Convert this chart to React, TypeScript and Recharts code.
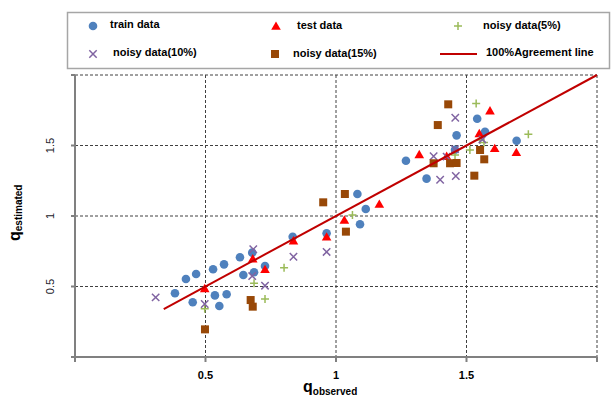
import React from 'react';
import { ScatterChart, Scatter, XAxis, YAxis, CartesianGrid } from 'recharts';

// values (q observed vs q estimated)
const trainData = [
  { x: 0.383, y: 0.452 }, { x: 0.425, y: 0.553 }, { x: 0.464, y: 0.589 }, { x: 0.451, y: 0.388 },
  { x: 0.529, y: 0.622 }, { x: 0.571, y: 0.657 }, { x: 0.536, y: 0.437 }, { x: 0.581, y: 0.445 },
  { x: 0.553, y: 0.362 }, { x: 0.632, y: 0.707 }, { x: 0.645, y: 0.582 }, { x: 0.679, y: 0.74 },
  { x: 0.686, y: 0.601 }, { x: 0.728, y: 0.645 }, { x: 0.834, y: 0.853 }, { x: 0.964, y: 0.877 },
  { x: 1.082, y: 1.156 }, { x: 1.114, y: 1.05 }, { x: 1.092, y: 0.941 }, { x: 1.268, y: 1.392 },
  { x: 1.347, y: 1.265 }, { x: 1.456, y: 1.47 }, { x: 1.462, y: 1.572 }, { x: 1.541, y: 1.69 },
  { x: 1.571, y: 1.598 }, { x: 1.692, y: 1.534 },
];

const testData = [
  { x: 0.497, y: 0.487 }, { x: 0.681, y: 0.697 }, { x: 0.728, y: 0.622 }, { x: 0.837, y: 0.825 },
  { x: 0.964, y: 0.853 }, { x: 1.032, y: 0.972 }, { x: 1.166, y: 1.085 }, { x: 1.319, y: 1.437 },
  { x: 1.424, y: 1.425 }, { x: 1.549, y: 1.586 }, { x: 1.59, y: 1.747 }, { x: 1.608, y: 1.48 },
  { x: 1.691, y: 1.452 },
];

const noisy5Data = [
  { x: 0.497, y: 0.343 }, { x: 0.686, y: 0.523 }, { x: 0.728, y: 0.411 }, { x: 0.801, y: 0.633 },
  { x: 1.063, y: 1.007 }, { x: 1.456, y: 1.432 }, { x: 1.513, y: 1.468 }, { x: 1.537, y: 1.797 },
  { x: 1.552, y: 1.539 }, { x: 1.567, y: 1.522 }, { x: 1.737, y: 1.58 },
];

const noisy10Data = [
  { x: 0.309, y: 0.423 }, { x: 0.497, y: 0.376 }, { x: 0.683, y: 0.764 }, { x: 0.679, y: 0.574 },
  { x: 0.728, y: 0.506 }, { x: 0.837, y: 0.711 }, { x: 0.964, y: 0.745 }, { x: 1.374, y: 1.424 },
  { x: 1.399, y: 1.257 }, { x: 1.424, y: 1.421 }, { x: 1.456, y: 1.474 }, { x: 1.457, y: 1.697 },
  { x: 1.459, y: 1.284 }, { x: 1.561, y: 1.543 },
];

const noisy15Data = [
  { x: 0.498, y: 0.196 }, { x: 0.673, y: 0.404 }, { x: 0.681, y: 0.357 }, { x: 0.951, y: 1.097 },
  { x: 1.034, y: 1.156 }, { x: 1.038, y: 0.889 }, { x: 1.374, y: 1.374 }, { x: 1.39, y: 1.645 },
  { x: 1.43, y: 1.792 }, { x: 1.437, y: 1.374 }, { x: 1.462, y: 1.376 }, { x: 1.53, y: 1.286 },
  { x: 1.552, y: 1.468 }, { x: 1.568, y: 1.402 },
];

const agreementLine = [{ x: 0.34, y: 0.34 }, { x: 2, y: 2 }];

const xTicks = [0, 0.5, 1, 1.5, 2];
const yTicks = [0, 0.5, 1, 1.5, 2];

const FONT = '"Liberation Sans", Arial, sans-serif';
const BLUE = '#4F81BD';
const RED = '#FF0000';
const GREEN = '#9BBB59';
const PURPLE = '#8064A2';
const BROWN = '#984807';
const LINE_RED = '#C00000';

const DotShape = (p: any) => <circle cx={p.cx} cy={p.cy} r={4.3} fill={BLUE} />;
const TriShape = (p: any) => (
  <path d={`M${p.cx},${p.cy - 4.6}L${p.cx + 4.8},${p.cy + 3.8}L${p.cx - 4.8},${p.cy + 3.8}Z`} fill={RED} />
);
const PlusShape = (p: any) => (
  <path d={`M${p.cx - 4},${p.cy}H${p.cx + 4}M${p.cx},${p.cy - 4}V${p.cy + 4}`} stroke={GREEN} strokeWidth={1.5} />
);
const XShape = (p: any) => (
  <path
    d={`M${p.cx - 3.7},${p.cy - 3.7}L${p.cx + 3.7},${p.cy + 3.7}M${p.cx - 3.7},${p.cy + 3.7}L${p.cx + 3.7},${p.cy - 3.7}`}
    stroke={PURPLE}
    strokeWidth={1.5}
  />
);
const SquareShape = (p: any) => <rect x={p.cx - 4} y={p.cy - 4} width={8} height={8} fill={BROWN} />;
const NoShape = () => <g />;

const YTick = (p: any) => {
  const v = p.payload.value;
  if (v === 0 || v === 2) return <g />;
  return (
    <text
      x={54}
      y={p.y}
      transform={`rotate(-90 54 ${p.y})`}
      textAnchor="middle"
      fontFamily={FONT}
      fontSize={11}
      fill="#1a1a2a"
    >
      {String(v)}
    </text>
  );
};

const Legend = () => (
  <svg width={611} height={80} style={{ position: 'absolute', left: 0, top: 0 }}>
    <rect x={67.5} y={12.5} width={542} height={56} fill="#fff" stroke="#a6a6a6" strokeWidth={1.5} />
    <g fontFamily={FONT} fontSize={11} fontWeight="bold" fill="#000">
      <DotShape cx={93} cy={26} />
      <text x={110} y={28}>train data</text>
      <TriShape cx={276} cy={26} />
      <text x={297} y={29}>test data</text>
      <PlusShape cx={458} cy={26} />
      <text x={483} y={29}>noisy data(5%)</text>
      <XShape cx={93} cy={54} />
      <text x={113} y={56}>noisy data(10%)</text>
      <SquareShape cx={275} cy={54} />
      <text x={293} y={57}>noisy data(15%)</text>
      <line x1={440} x2={477} y1={54} y2={54} stroke={LINE_RED} strokeWidth={2} />
      <text x={486} y={56}>100%Agreement line</text>
    </g>
  </svg>
);

const AxisTitles = () => (
  <svg width={611} height={400} style={{ position: 'absolute', left: 0, top: 0, pointerEvents: 'none' }}>
    <text x={303} y={392} fontFamily={FONT} fontWeight="bold" fill="#000">
      <tspan fontSize={16}>q</tspan>
      <tspan fontSize={10} dy={3}>observed</tspan>
    </text>
    <text x={19.5} y={241} transform="rotate(-90 19.5 241)" fontFamily={FONT} fontWeight="bold" fill="#000">
      <tspan fontSize={16}>q</tspan>
      <tspan fontSize={10} dy={2}>estimated</tspan>
    </text>
  </svg>
);

export default function App() {
  return (
    <div style={{ position: 'absolute', left: 0, top: 0, width: 611, height: 400, background: '#fff' }}>
      <ScatterChart width={611} height={400} margin={{ top: 75, right: 14, bottom: 0, left: 0 }}>
        <CartesianGrid stroke="#404040" strokeDasharray="3 2" strokeWidth={1} />
        <XAxis
          type="number"
          dataKey="x"
          domain={[0, 2]}
          ticks={xTicks}
          height={43}
          stroke="#808080"
          strokeWidth={2}
          tickSize={5}
          tickMargin={9}
          tickFormatter={(v: number) => (v === 0 || v === 2 ? '' : String(v))}
          tick={{ fontFamily: FONT, fontSize: 11, fontWeight: 'bold', fill: '#000' }}
        />
        <YAxis
          type="number"
          dataKey="y"
          domain={[0, 2]}
          ticks={yTicks}
          width={75}
          stroke="#808080"
          strokeWidth={2}
          tickSize={4}
          tick={YTick}
        />
        <Scatter data={trainData} shape={DotShape} isAnimationActive={false} />
        <Scatter data={testData} shape={TriShape} isAnimationActive={false} />
        <Scatter data={noisy5Data} shape={PlusShape} isAnimationActive={false} />
        <Scatter data={noisy10Data} shape={XShape} isAnimationActive={false} />
        <Scatter data={noisy15Data} shape={SquareShape} isAnimationActive={false} />
        <Scatter
          data={agreementLine}
          shape={NoShape}
          line={{ stroke: LINE_RED, strokeWidth: 2 }}
          isAnimationActive={false}
        />
      </ScatterChart>
      <Legend />
      <AxisTitles />
    </div>
  );
}
